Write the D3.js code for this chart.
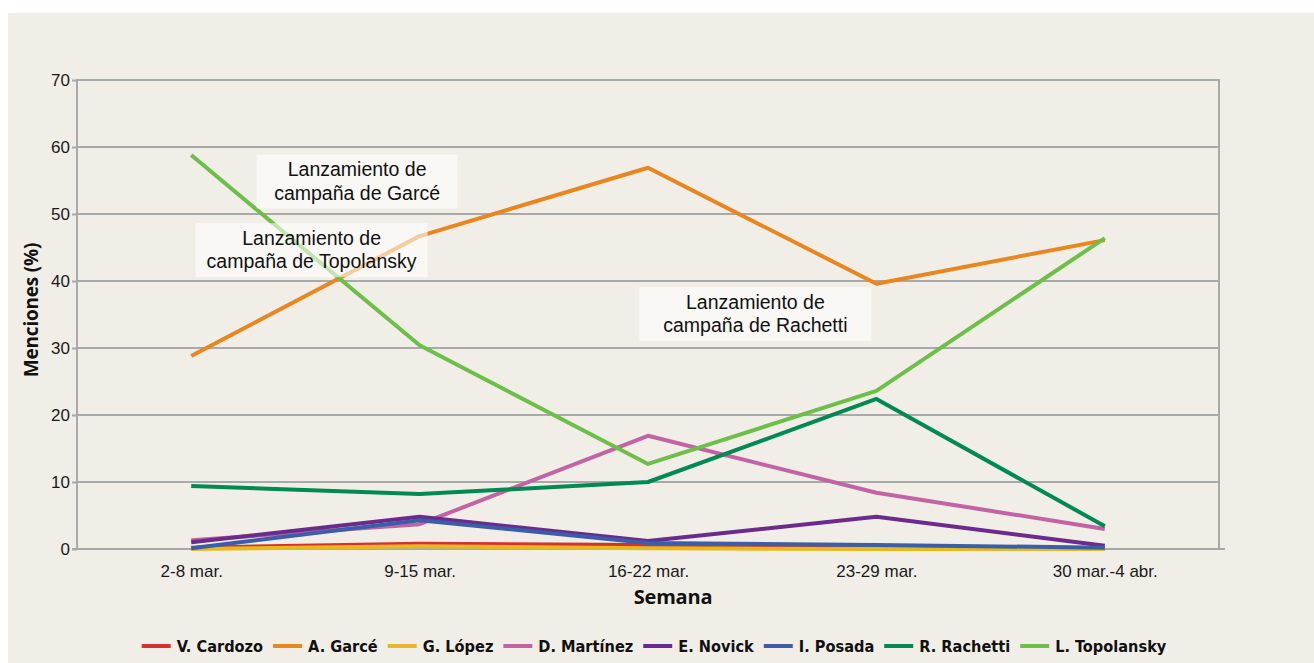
<!DOCTYPE html>
<html>
<head>
<meta charset="utf-8">
<script src="https://cdn.jsdelivr.net/npm/d3@7"></script>
<style>
  html, body { margin: 0; padding: 0; background: #ffffff; }
  svg { display: block; }
</style>
</head>
<body>
<svg id="chart" width="1314" height="663"></svg>
<script>
// Weekly share of mentions (%) per candidate
const weeks = ["2-8 mar.", "9-15 mar.", "16-22 mar.", "23-29 mar.", "30 mar.-4 abr."];
const candidates = ["V. Cardozo", "A. Garcé", "G. López", "D. Martínez", "E. Novick", "I. Posada", "R. Rachetti", "L. Topolansky"];
const colors = ["#d6322b", "#e8861f", "#e6b921", "#c263a3", "#6a2b8d", "#3b5ea8", "#008a53", "#6cbf48"];

const cardozo    = [0.2, 0.8, 0.6, 0.1, 0.0];
const garce      = [28.8, 46.7, 56.9, 39.6, 46.1];
const lopez      = [0.0, 0.4, 0.1, 0.0, 0.0];
const martinez   = [1.3, 3.7, 16.9, 8.4, 3.0];
const novick     = [1.0, 4.8, 1.2, 4.8, 0.5];
const posada     = [0.1, 4.3, 0.9, 0.6, 0.2];
const rachetti   = [9.4, 8.2, 10.0, 22.4, 3.4];
const topolansky = [58.8, 30.4, 12.7, 23.6, 46.4];

const seriesValues = [cardozo, garce, lopez, martinez, novick, posada, rachetti, topolansky];
const yTicks = [0, 10, 20, 30, 40, 50, 60, 70];

// Callout notes: text lines, anchor week and value for the box centre
const notes = [
  { lines: ["Lanzamiento de", "campaña de Garcé"], week: 1, value: 54.85, dx: -163, w: 201 },
  { lines: ["Lanzamiento de", "campaña de Topolansky"], week: 1, value: 44.6, dx: -224, w: 232 },
  { lines: ["Lanzamiento de", "campaña de Rachetti"], week: 3, value: 35.05, dx: -237, w: 232 }
];

const svg = d3.select("#chart");
const W = 1314, H = 663;
const sansFont = "'Liberation Sans', Arial, Helvetica, sans-serif";
const boldFont = "'Open Sans', sans-serif";

// panel background
svg.append("rect").attr("x", 8).attr("y", 13).attr("width", W - 8).attr("height", H - 13).attr("fill", "#f1eee7");

const m = { left: 77, right: 1219, top: 80, bottom: 549 };

const x = d3.scalePoint().domain(weeks).range([m.left, m.right]).padding(0.5);
const y = d3.scaleLinear().domain([0, 70]).range([m.bottom, m.top]);

const gridColor = "#a9a9a9";

// horizontal gridlines
svg.append("g").selectAll("line").data(yTicks.filter(d => d > 0)).join("line")
  .attr("x1", m.left).attr("x2", m.right)
  .attr("y1", d => y(d)).attr("y2", d => y(d))
  .attr("stroke", gridColor).attr("stroke-width", 2);

// right border
svg.append("line").attr("x1", m.right).attr("x2", m.right).attr("y1", m.top - 1).attr("y2", m.bottom)
  .attr("stroke", gridColor).attr("stroke-width", 2);

// y axis
const yAxis = svg.append("g").attr("transform", `translate(${m.left},0)`)
  .call(d3.axisLeft(y).tickValues(yTicks).tickSize(5).tickPadding(2));
yAxis.select(".domain").attr("stroke", gridColor).attr("stroke-width", 2)
  .attr("d", `M0,${m.top - 1}V${m.bottom + 1}`);
yAxis.selectAll(".tick line").attr("stroke", gridColor).attr("stroke-width", 2);
yAxis.selectAll(".tick text").attr("font-family", sansFont)
  .attr("font-size", 17).attr("fill", "#1a1a1a");

// x axis baseline and labels
svg.append("line").attr("x1", m.left - 5).attr("x2", m.right + 6).attr("y1", y(0)).attr("y2", y(0))
  .attr("stroke", gridColor).attr("stroke-width", 2);
const xAxis = svg.append("g").attr("transform", `translate(0,${m.bottom})`)
  .call(d3.axisBottom(x).tickSize(0).tickPadding(16));
xAxis.select(".domain").remove();
xAxis.selectAll(".tick text").attr("font-family", sansFont)
  .attr("font-size", 17).attr("fill", "#1a1a1a");

// axis titles
svg.append("text").attr("x", 673).attr("y", 604).attr("text-anchor", "middle")
  .attr("font-family", boldFont).attr("font-weight", 700).attr("font-size", 20)
  .attr("letter-spacing", -0.2).attr("fill", "#111").text("Semana");
svg.append("text").attr("transform", `translate(38,310) rotate(-90)`)
  .attr("text-anchor", "middle")
  .attr("font-family", boldFont).attr("font-weight", 700).attr("font-size", 19)
  .attr("letter-spacing", -0.2).attr("fill", "#111").text("Menciones (%)");

// series lines
const line = d3.line().x((d, i) => x(weeks[i])).y(d => y(d));
svg.append("g").selectAll("path").data(seriesValues).join("path")
  .attr("d", d => line(d))
  .attr("fill", "none")
  .attr("stroke", (d, i) => colors[i])
  .attr("stroke-width", 4)
  .attr("stroke-linejoin", "round");

// callout boxes over the lines
const noteG = svg.append("g").selectAll("g").data(notes).join("g")
  .attr("transform", d => `translate(${x(weeks[d.week]) + d.dx},${y(d.value)})`);
noteG.append("rect").attr("x", 0).attr("y", -27).attr("width", d => d.w).attr("height", 54)
  .attr("fill", "#ffffff").attr("fill-opacity", 0.58);
noteG.each(function (d) {
  const g = d3.select(this);
  d.lines.forEach((t, k) => {
    g.append("text").attr("x", d.w / 2).attr("y", -5.5 + k * 23.5).attr("text-anchor", "middle")
      .attr("font-family", sansFont).attr("font-size", 19.5)
      .attr("fill", "#111").text(t);
  });
});

// legend
const legend = svg.append("g");
const itemGap = 10;
let cx = 0;
candidates.forEach((name, i) => {
  const g = legend.append("g").attr("transform", `translate(${cx},0)`);
  g.append("line").attr("x1", 0).attr("x2", 29).attr("y1", 0).attr("y2", 0)
    .attr("stroke", colors[i]).attr("stroke-width", 4);
  const t = g.append("text").attr("x", 35).attr("y", 6)
    .attr("font-family", "'DejaVu Sans Condensed', 'DejaVu Sans', sans-serif")
    .attr("font-stretch", "condensed").attr("font-weight", 700).attr("font-size", 16.2)
    .attr("fill", "#111").text(name);
  cx += 35 + t.node().getComputedTextLength() + itemGap;
});
const legendW = cx - itemGap;
legend.attr("transform", `translate(${654 - legendW / 2},646)`);
</script>
</body>
</html>
